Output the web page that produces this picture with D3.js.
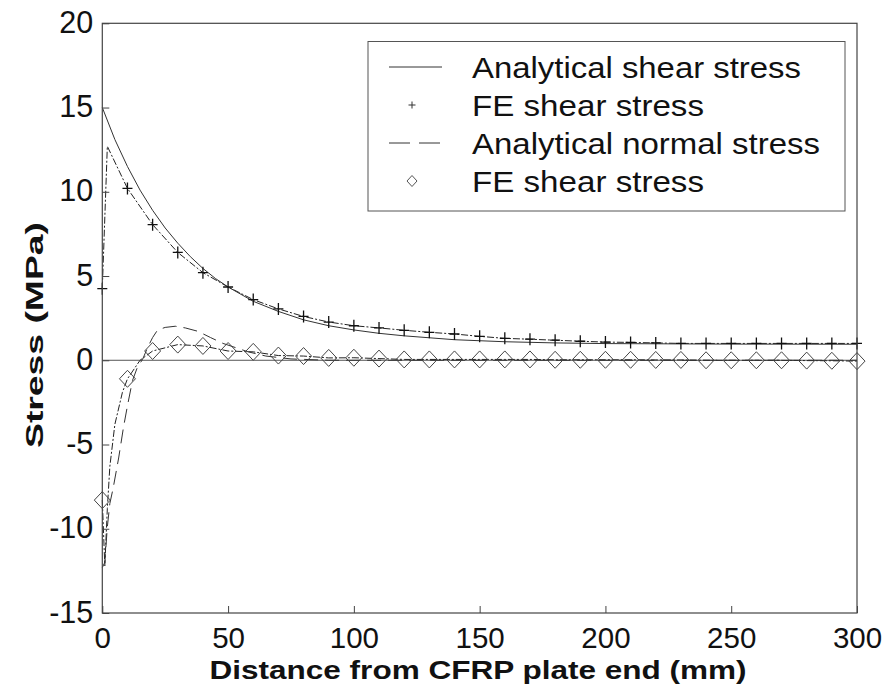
<!DOCTYPE html>
<html>
<head>
<meta charset="utf-8">
<script src="https://cdn.jsdelivr.net/npm/d3@7"></script>
<style>
  html, body { margin: 0; padding: 0; background: #fff; }
  svg { display: block; font-family: "Liberation Sans", Arial, sans-serif; }
</style>
</head>
<body>
<div id="chart"></div>
<script>
// analytical shear stress (solid)
const shearAnaX = [0, 5, 10, 15, 20, 25, 30, 35, 40, 45, 50, 60, 70, 80, 90, 100, 110, 120, 140, 160, 180, 200, 250, 300];
const shearAnaY = [15.0, 13.1, 11.5, 10.1, 8.9, 7.85, 6.95, 6.15, 5.45, 4.85, 4.35, 3.5, 2.9, 2.4, 2.05, 1.8, 1.6, 1.45, 1.22, 1.1, 1.03, 0.99, 0.96, 0.95];

// FE shear stress (+ markers every 10 mm)
const shearFeX = [0, 2, 10, 20, 30, 40, 50, 60, 70, 80, 90, 100, 110, 120, 130, 140, 150, 160, 170, 180, 190, 200, 210, 220, 230, 240, 250, 260, 270, 280, 290, 300];
const shearFeY = [4.25, 12.7, 10.2, 8.05, 6.4, 5.2, 4.35, 3.6, 3.05, 2.6, 2.27, 2.05, 1.92, 1.78, 1.66, 1.56, 1.42, 1.3, 1.25, 1.19, 1.13, 1.08, 1.06, 1.03, 1.0, 1.0, 1.0, 1.0, 1.0, 1.0, 1.0, 1.0];

// analytical normal stress (dashed)
const normalAnaX = [0, 1, 2, 3, 4.3, 6.5, 8.4, 10, 12, 14, 16, 18, 20, 22, 25, 29, 33, 38, 43, 48, 53, 58, 65, 75, 90, 120, 200, 300];
const normalAnaY = [-12.3, -12.0, -9.9, -8.5, -7.6, -5.8, -4.0, -2.7, -1.2, -0.4, 0.05, 0.75, 1.35, 1.8, 1.95, 2.02, 1.92, 1.72, 1.35, 1.0, 0.75, 0.5, 0.25, 0.08, 0.0, 0.0, 0.0, 0.0];

// FE normal stress (diamond markers every 10 mm)
const normalFeX = [0, 1, 2, 3, 5, 8, 10, 15, 20, 30, 40, 50, 60, 70, 80, 90, 100, 110, 120, 130, 140, 150, 160, 170, 180, 190, 200, 210, 220, 230, 240, 250, 260, 270, 280, 290, 300];
const normalFeY = [-8.3, -12.2, -8.8, -6.3, -3.8, -1.9, -1.1, 0.0, 0.55, 0.93, 0.85, 0.55, 0.5, 0.28, 0.25, 0.14, 0.15, 0.1, 0.05, 0.05, 0.05, 0.05, 0.05, 0.05, 0.03, 0.03, 0.03, 0.03, 0.02, 0.02, 0.0, 0.0, 0.0, 0.0, -0.02, -0.03, -0.05];

const xTicks = [0, 50, 100, 150, 200, 250, 300];
const yTicks = [-15, -10, -5, 0, 5, 10, 15, 20];

const legendLabels = ["Analytical shear stress", "FE shear stress", "Analytical normal stress", "FE shear stress"];
const legendWidths = [329, 232, 348, 232];

const width = 888;
const height = 696;
const plot = { left: 102.3, right: 857, top: 23.3, bottom: 613 };

const zip = (xs, ys) => xs.map((x, i) => ({ x, y: ys[i] }));

const x = d3.scaleLinear().domain([0, 300]).range([plot.left, plot.right]);
const y = d3.scaleLinear().domain([-15, 20]).range([plot.bottom, plot.top]);

const svg = d3
  .create("svg")
  .attr("width", width)
  .attr("height", height)
  .attr("viewBox", [0, 0, width, height]);

svg.append("rect").attr("width", width).attr("height", height).attr("fill", "#fff");

const line = d3.line().x((d) => x(d.x)).y((d) => y(d.y));

// zero reference line
svg
  .append("line")
  .attr("x1", x(0))
  .attr("x2", x(300))
  .attr("y1", y(0))
  .attr("y2", y(0))
  .attr("stroke", "#555")
  .attr("stroke-width", 1);

// FE lines (dash-dot)
svg
  .append("path")
  .datum(zip(shearFeX, shearFeY))
  .attr("fill", "none")
  .attr("stroke", "#222")
  .attr("stroke-width", 1)
  .attr("stroke-dasharray", "7,2,2,2")
  .attr("d", line);

svg
  .append("path")
  .datum(zip(normalFeX, normalFeY))
  .attr("fill", "none")
  .attr("stroke", "#222")
  .attr("stroke-width", 1)
  .attr("stroke-dasharray", "7,2,2,2")
  .attr("d", line);

// analytical shear (solid)
svg
  .append("path")
  .datum(zip(shearAnaX, shearAnaY))
  .attr("fill", "none")
  .attr("stroke", "#333")
  .attr("stroke-width", 1)
  .attr("d", line);

// analytical normal (dashed)
svg
  .append("path")
  .datum(zip(normalAnaX, normalAnaY))
  .attr("fill", "none")
  .attr("stroke", "#333")
  .attr("stroke-width", 1)
  .attr("stroke-dasharray", "14,7")
  .attr("d", line);

// + markers
const plusPath = (cx, cy, w, h) => `M${cx - w},${cy}H${cx + w}M${cx},${cy - h}V${cy + h}`;
svg
  .append("g")
  .selectAll("path")
  .data(zip(shearFeX, shearFeY).filter((d) => d.x % 10 === 0))
  .join("path")
  .attr("d", (d) => plusPath(x(d.x), y(d.y), 5, 6))
  .attr("stroke", "#111")
  .attr("stroke-width", 1.3)
  .attr("fill", "none");

// diamond markers
const diamondPath = (cx, cy, w, h) =>
  `M${cx},${cy - h}L${cx + w},${cy}L${cx},${cy + h}L${cx - w},${cy}Z`;
svg
  .append("g")
  .selectAll("path")
  .data(zip(normalFeX, normalFeY).filter((d) => d.x % 10 === 0))
  .join("path")
  .attr("d", (d) => diamondPath(x(d.x), y(d.y), 8, 8.5))
  .attr("stroke", "#444")
  .attr("stroke-width", 1)
  .attr("fill", "none");

// axes box
svg
  .append("rect")
  .attr("x", plot.left)
  .attr("y", plot.top)
  .attr("width", plot.right - plot.left)
  .attr("height", plot.bottom - plot.top)
  .attr("fill", "none")
  .attr("stroke", "#444")
  .attr("stroke-width", 1.2);

// x axis (ticks inward)
svg
  .append("g")
  .attr("transform", `translate(0,${plot.bottom})`)
  .call(d3.axisBottom(x).tickValues(xTicks).tickSize(-7).tickFormat((d) => String(d)))
  .call((g) => g.select(".domain").remove())
  .call((g) => g.selectAll("line").attr("stroke", "#444"))
  .call((g) =>
    g.selectAll("text")
      .attr("font-size", 29.5)
      .attr("font-family", "Liberation Sans, Arial, sans-serif")
      .attr("fill", "#111")
      .attr("dy", null)
      .attr("y", 35)
  );

// y axis (ticks inward)
svg
  .append("g")
  .attr("transform", `translate(${plot.left},0)`)
  .call(d3.axisLeft(y).tickValues(yTicks).tickSize(-7).tickPadding(9).tickFormat((d) => String(d)))
  .call((g) => g.select(".domain").remove())
  .call((g) => g.selectAll("line").attr("stroke", "#444"))
  .call((g) =>
    g.selectAll("text")
      .attr("font-size", 30.5)
      .attr("font-family", "Liberation Sans, Arial, sans-serif")
      .attr("fill", "#111")
      .attr("dy", null)
      .attr("y", 9)
  );

// axis labels
svg
  .append("text")
  .attr("x", 478)
  .attr("y", 679)
  .attr("text-anchor", "middle")
  .attr("font-weight", "bold")
  .attr("font-size", 26.5)
  .attr("textLength", 537)
  .attr("lengthAdjust", "spacingAndGlyphs")
  .attr("fill", "#111")
  .text("Distance from CFRP plate end (mm)");

svg
  .append("text")
  .attr("transform", "translate(43,335) rotate(-90)")
  .attr("text-anchor", "middle")
  .attr("font-weight", "bold")
  .attr("font-size", 24)
  .attr("textLength", 226)
  .attr("lengthAdjust", "spacingAndGlyphs")
  .attr("fill", "#111")
  .text("Stress (MPa)");

// legend
const legend = svg.append("g");
legend
  .append("rect")
  .attr("x", 368)
  .attr("y", 41.5)
  .attr("width", 845 - 368)
  .attr("height", 211 - 41.5)
  .attr("fill", "#fff")
  .attr("stroke", "#555")
  .attr("stroke-width", 1);

const rowY = [67, 105, 143, 181];

legend
  .selectAll("text")
  .data(legendLabels)
  .join("text")
  .attr("x", 472)
  .attr("y", (d, i) => rowY[i] + 10.5)
  .attr("font-size", 29.5)
  .attr("textLength", (d, i) => legendWidths[i])
  .attr("lengthAdjust", "spacingAndGlyphs")
  .attr("fill", "#111")
  .text((d) => d);

legend
  .append("line")
  .attr("x1", 389)
  .attr("x2", 442)
  .attr("y1", rowY[0])
  .attr("y2", rowY[0])
  .attr("stroke", "#333")
  .attr("stroke-width", 1);

legend
  .append("path")
  .attr("d", plusPath(412, rowY[1], 3.5, 3.5))
  .attr("stroke", "#333")
  .attr("stroke-width", 1)
  .attr("fill", "none");

legend
  .append("line")
  .attr("x1", 389)
  .attr("x2", 442)
  .attr("y1", rowY[2])
  .attr("y2", rowY[2])
  .attr("stroke", "#333")
  .attr("stroke-width", 1)
  .attr("stroke-dasharray", "21,9");

legend
  .append("path")
  .attr("d", diamondPath(412, rowY[3], 5, 5.5))
  .attr("stroke", "#555")
  .attr("stroke-width", 1)
  .attr("fill", "none");

document.getElementById("chart").appendChild(svg.node());
</script>
</body>
</html>
